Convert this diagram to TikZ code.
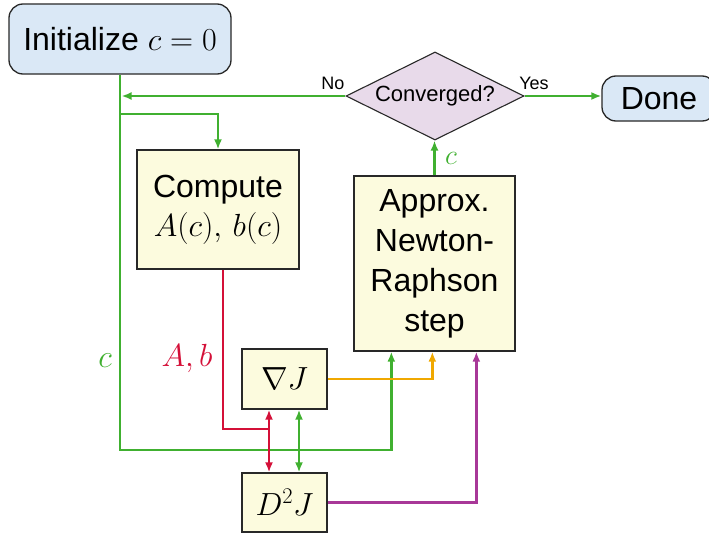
\RequirePackage{fix-cm}
\documentclass[tikz,border=0pt]{standalone}
\usepackage{fontspec}
\setmainfont{Liberation Sans}
\usetikzlibrary{arrows.meta,shapes.geometric}
\definecolor{cgreen}{RGB}{64,176,48}
\definecolor{cred}{RGB}{212,16,56}
\definecolor{corange}{RGB}{240,168,0}
\definecolor{cpurple}{RGB}{168,56,152}
\definecolor{boxfill}{RGB}{252,251,222}
\definecolor{bluefill}{RGB}{218,232,246}
\definecolor{diafill}{RGB}{232,218,234}
\definecolor{edge}{RGB}{40,40,40}
\tikzset{
  big/.style={font=\fontsize{32}{40}\selectfont},
  procbox/.style={draw=edge, line width=1.3pt, fill=boxfill, inner sep=0pt, align=center, big},
  termbox/.style={draw=edge, line width=1.3pt, fill=bluefill, rounded corners=14pt, inner sep=0pt, align=center, big},
  decbox/.style={draw=edge, line width=1.1pt, fill=diafill, diamond, aspect=2, inner sep=0pt, minimum width=178pt, minimum height=88pt, font=\fontsize{22}{26}\selectfont},
  conn/.style={line width=2.4pt, -{Latex[length=10pt,width=8pt]}},
  both/.style={line width=2.4pt, {Latex[length=10pt,width=8pt]}-{Latex[length=10pt,width=8pt]}},
  small/.style={font=\fontsize{18}{20}\selectfont},
  lab/.style={font=\fontsize{32}{36}\selectfont, inner sep=0pt}
}
\begin{document}
\begin{tikzpicture}[x=1pt,y=-1pt]
\useasboundingbox (0,0) rectangle (709,535);
\begin{scope}
\clip (0,0) rectangle (709,535);
% nodes
\node[termbox, minimum width=222pt, minimum height=70pt] (init) at (120,39) {Initialize $c=0$};
\node[termbox, minimum width=114pt, minimum height=45pt] (done) at (659,98.5) {Done};
\node[decbox] (dia) at (435,96) {Converged?};
\node[procbox, minimum width=162pt, minimum height=119pt] (comp) at (218,209.5) {Compute\\[-1pt]$A(c),\,b(c)$};
\node[procbox, minimum width=161pt, minimum height=175pt] (appr) at (434.5,263.5) {Approx.\\Newton-\\Raphson\\step};
\node[procbox, minimum width=85pt, minimum height=60pt] (grad) at (284.5,379) {$\nabla J$};
\node[procbox, minimum width=85pt, minimum height=59pt] (hess) at (284.5,502.5) {$D^2J$};
% coordinates
\coordinate (br) at (120,114);
\coordinate (cb) at (120,450);
\coordinate (rj) at (269,429);
% green connectors
\draw[conn, cgreen] (init.south) -- (cb) -| ([xshift=38pt]appr.south west);
\draw[conn, cgreen] (br) -| (comp.north);
\draw[conn, cgreen] (dia.west) -- ([xshift=1.5pt]dia.west -| init.south);
\draw[conn, cgreen] (appr.north) -- (appr.north |- dia.south);
\draw[conn, cgreen] (dia.east) -- (dia.east -| done.west);
\draw[both, cgreen] ([xshift=14.5pt]grad.south) -- ([xshift=14.5pt]hess.north);
% red
\draw[line width=2.4pt, cred] ([xshift=5pt]comp.south) |- (rj);
\draw[both, cred] ([xshift=-15.5pt]grad.south) -- ([xshift=-15.5pt]hess.north);
% orange, purple
\draw[conn, corange] (grad.east) -| ([xshift=79pt]appr.south west);
\draw[conn, cpurple] (hess.east) -| ([xshift=123pt]appr.south west);
% labels
\node[small] (no) at (333,83) {No};
\node[small] (yes) at (534,83) {Yes};
\node[lab, text=cgreen] (lc1) at (105,361) {$c$};
\node[lab, text=cred] (lab) at (187,358) {$A,b$};
\node[lab, text=cgreen, font=\fontsize{28}{30}\selectfont] (lc2) at (451,158) {$c$};
\end{scope}
\end{tikzpicture}
\end{document}
